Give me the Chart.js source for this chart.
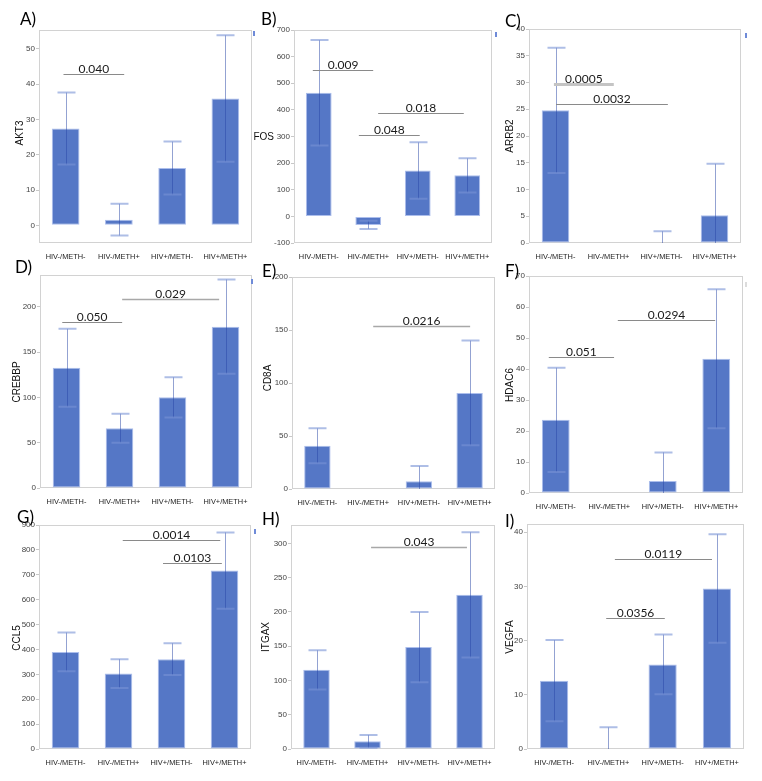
<!DOCTYPE html>
<html><head><meta charset="utf-8">
<script src="https://cdn.jsdelivr.net/npm/chart.js@4.4.1/dist/chart.umd.min.js"></script>
<style>
html,body{margin:0;padding:0;background:#fff;width:762px;height:781px;overflow:hidden}
#wrap{position:relative;width:762px;height:781px}
canvas{position:absolute}
</style></head><body><div id="wrap"></div>
<script>
// ---------- DATA ----------
const categories = ["HIV-/METH-", "HIV-/METH+", "HIV+/METH-", "HIV+/METH+"];

const akt3Mean = [27.4, 1.6, 16.2, 35.9];
const akt3Err  = [10.2, 4.5, 7.5, 17.9];
const akt3Ticks = [0, 10, 20, 30, 40, 50];
const akt3Brackets = [[-0.04, 1.10, 42.8, "0.040"]];

const fosMean = [464, -32, 172, 154];
const fosErr  = [198, 15.5, 106, 64];
const fosTicks = [-100, 0, 100, 200, 300, 400, 500, 600, 700];
const fosBrackets = [[-0.12, 1.10, 548, "0.009"], [1.20, 2.93, 390, "0.018"], [0.81, 2.04, 307, "0.048"]];

const arrb2Mean = [24.8, 0, 0, 5.2];
const arrb2Err  = [11.7, 0, 2.2, 9.6];
const arrb2Ticks = [0, 5, 10, 15, 20, 25, 30, 35, 40];
const arrb2Brackets = [[-0.03, 1.10, 29.8, "0.0005"], [0.01, 2.12, 26.0, "0.0032"]];

const crebbpMean = [132.6, 66, 100, 178];
const crebbpErr  = [43, 16, 22.2, 52];
const crebbpTicks = [0, 50, 100, 150, 200];
const crebbpBrackets = [[-0.08, 1.05, 182.7, "0.050"], [1.05, 2.88, 208, "0.029"]];

const cd8aMean = [40.8, 0, 7.2, 90.6];
const cd8aErr  = [16.4, 0, 14.4, 49.4];
const cd8aTicks = [0, 50, 100, 150, 200];
const cd8aBrackets = [[1.10, 3.01, 153.6, "0.0216"]];

const hdac6Mean = [23.6, 0, 3.9, 43.3];
const hdac6Err  = [16.8, 0, 9.2, 22.4];
const hdac6Ticks = [0, 10, 20, 30, 40, 50, 60, 70];
const hdac6Brackets = [[-0.13, 1.09, 43.9, "0.051"], [1.16, 2.98, 55.9, "0.0294"]];

const ccl5Mean = [390, 303, 361, 717];
const ccl5Err  = [78, 58, 64, 153];
const ccl5Ticks = [0, 100, 200, 300, 400, 500, 600, 700, 800, 900];
const ccl5Brackets = [[1.08, 2.92, 838, "0.0014"], [1.84, 2.95, 747, "0.0103"]];

const itgaxMean = [115.6, 11.2, 148.8, 225];
const itgaxErr  = [28.6, 9.3, 51.3, 91.5];
const itgaxTicks = [0, 50, 100, 150, 200, 250, 300];
const itgaxBrackets = [[1.07, 2.95, 295, "0.043"]];

const vegfaMean = [12.6, 0, 15.6, 29.6];
const vegfaErr  = [7.5, 4.0, 5.5, 10.0];
const vegfaTicks = [0, 10, 20, 30, 40];
const vegfaBrackets = [[1.12, 2.91, 35.0, "0.0119"], [0.96, 2.04, 24.1, "0.0356"]];

// ---------- LAYOUT ----------
const panels = [
  {tag:"A)", gene:"AKT3",  mean:akt3Mean,  err:akt3Err,  ticks:akt3Ticks,  br:akt3Brackets,  min:-5,  max:55.3, frame:[39,30,252,243],  lab:[20,25],  tt:[20,133],  rot:true, mark:[253,31], bs:["dark"]},
  {tag:"B)", gene:"FOS",   mean:fosMean,   err:fosErr,   ticks:fosTicks,   br:fosBrackets,   min:-100,max:700,  frame:[294,30,492,243], lab:[261,25], tt:[274,137], rot:false, mark:[495,32], bs:["dark","dark","dark"]},
  {tag:"C)", gene:"ARRB2", mean:arrb2Mean, err:arrb2Err, ticks:arrb2Ticks, br:arrb2Brackets, min:0,   max:40,   frame:[529,29,741,243], lab:[505,27], tt:[510,136], rot:true, mark:[745,33], bs:["lightThick","dark"]},
  {tag:"D)", gene:"CREBBP",mean:crebbpMean,err:crebbpErr,ticks:crebbpTicks,br:crebbpBrackets,min:0,   max:235,  frame:[40,275,252,488], lab:[15,273], tt:[17,382],  rot:true, mark:[251,279], bs:["dark","light"]},
  {tag:"E)", gene:"CD8A",  mean:cd8aMean,  err:cd8aErr,  ticks:cd8aTicks,  br:cd8aBrackets,  min:0,   max:200,  frame:[292,277,495,489],lab:[262,277],tt:[268,378], rot:true, mark:null, bs:["light"]},
  {tag:"F)", gene:"HDAC6", mean:hdac6Mean, err:hdac6Err, ticks:hdac6Ticks, br:hdac6Brackets, min:0,   max:70,   frame:[529,276,743,493],lab:[505,277],tt:[510,385], rot:true, mark:[745,282], markGray:true, bs:["dark","dark"]},
  {tag:"G)", gene:"CCL5",  mean:ccl5Mean,  err:ccl5Err,  ticks:ccl5Ticks,  br:ccl5Brackets,  min:0,   max:900,  frame:[39,525,251,749], lab:[17,523], tt:[17,638],  rot:true, mark:[254,529], bs:["dark","dark"]},
  {tag:"H)", gene:"ITGAX", mean:itgaxMean, err:itgaxErr, ticks:itgaxTicks, br:itgaxBrackets, min:0,   max:327,  frame:[291,525,495,749],lab:[262,525],tt:[266,637], rot:true, mark:null, bs:["light"]},
  {tag:"I)", gene:"VEGFA", mean:vegfaMean, err:vegfaErr, ticks:vegfaTicks, br:vegfaBrackets, min:0,   max:41.5, frame:[527,524,744,749],lab:[505,527],tt:[510,637], rot:true, mark:null, bs:["dark","dark"]}
];

const PADL = 48, PADT = 22, PADR = 14, PADB = 16;
const BAR = "rgb(85,119,198)";
const BAR_EDGE = "rgb(172,190,236)";

function makeDecor(p, cx, cy) {
  return {
    id: "decor" + p.tag,
    beforeDatasetsDraw(chart) {
      const ctx = chart.ctx, a = chart.chartArea;
      ctx.save();
      ctx.strokeStyle = "#d2d2d2";
      ctx.lineWidth = 1;
      ctx.strokeRect(Math.round(a.left) + 0.5, Math.round(a.top) + 0.5, Math.round(a.right - a.left) - 1, Math.round(a.bottom - a.top) - 1);
      ctx.restore();
    },
    afterDatasetsDraw(chart) {
      const ctx = chart.ctx, a = chart.chartArea;
      const xs = chart.scales.x, ys = chart.scales.y;
      // error bars
      ctx.save();
      ctx.beginPath();
      ctx.rect(a.left, a.top, a.right - a.left, a.bottom - a.top);
      ctx.clip();
      p.mean.forEach((m, i) => {
        const e = p.err[i];
        if (!e) return;
        const x = Math.round(xs.getPixelForValue(i)) + 0.5;
        const yt = ys.getPixelForValue(m + e);
        const yb = ys.getPixelForValue(m - e);
        ctx.strokeStyle = "rgba(40,70,165,0.5)";
        ctx.lineWidth = 1;
        ctx.beginPath(); ctx.moveTo(x, yt); ctx.lineTo(x, yb); ctx.stroke();
        ctx.strokeStyle = "rgba(120,146,214,0.6)";
        ctx.lineWidth = 2;
        ctx.beginPath();
        ctx.moveTo(x - 9, yt); ctx.lineTo(x + 9, yt);
        ctx.moveTo(x - 9, yb); ctx.lineTo(x + 9, yb);
        ctx.stroke();
      });
      ctx.restore();
      // significance brackets
      ctx.save();
      p.br.forEach((b, k) => {
        const x1 = xs.getPixelForValue(b[0]);
        const x2 = xs.getPixelForValue(b[1]);
        const y = Math.round(ys.getPixelForValue(b[2])) + 0.5;
        const st = p.bs[k] || "dark";
        if (st === "lightThick") { ctx.strokeStyle = "#c4c4c4"; ctx.lineWidth = 3; }
        else if (st === "light") { ctx.strokeStyle = "#a8a8a8"; ctx.lineWidth = 1.6; }
        else { ctx.strokeStyle = "#8a8a8a"; ctx.lineWidth = 1; }
        ctx.beginPath(); ctx.moveTo(x1, y); ctx.lineTo(x2, y); ctx.stroke();
        ctx.fillStyle = "#1a1a1a";
        ctx.font = "12px Lato, 'Open Sans', sans-serif";
        ctx.textAlign = "center";
        ctx.textBaseline = "alphabetic";
        ctx.fillText(b[3], (x1 + x2) / 2, y - 2);
      });
      ctx.restore();
    },
    afterDraw(chart) {
      const ctx = chart.ctx;
      ctx.save();
      // panel tag
      ctx.fillStyle = "#000";
      ctx.font = "17px Lato, 'Open Sans', sans-serif";
      ctx.textAlign = "left";
      ctx.textBaseline = "alphabetic";
      ctx.fillText(p.tag, p.lab[0] - cx, p.lab[1] - cy);
      // y title
      ctx.fillStyle = "#111";
      ctx.font = "10px 'Liberation Sans', Arial, sans-serif";
      if (p.rot) {
        ctx.translate(p.tt[0] - cx, p.tt[1] - cy);
        ctx.rotate(-Math.PI / 2);
        ctx.textAlign = "center";
        ctx.textBaseline = "middle";
        ctx.fillText(p.gene, 0, 0);
      } else {
        ctx.textAlign = "right";
        ctx.textBaseline = "middle";
        ctx.fillText(p.gene, p.tt[0] - cx, p.tt[1] - cy);
      }
      ctx.restore();
      if (p.mark) {
        ctx.save();
        ctx.fillStyle = p.markGray ? "#dcdcdc" : "#6f8bd8";
        ctx.fillRect(p.mark[0] - cx, p.mark[1] - cy, 2, 5);
        ctx.restore();
      }
    }
  };
}

const wrap = document.getElementById("wrap");
panels.forEach(p => {
  const [fl, ft, fr, fb] = p.frame;
  const cx = fl - PADL, cy = ft - PADT;
  const w = (fr - fl) + PADL + PADR, h = (fb - ft) + PADT + PADB;
  const cv = document.createElement("canvas");
  cv.width = w; cv.height = h;
  cv.style.left = cx + "px"; cv.style.top = cy + "px";
  cv.style.width = w + "px"; cv.style.height = h + "px";
  wrap.appendChild(cv);
  new Chart(cv.getContext("2d"), {
    type: "bar",
    data: {
      labels: categories,
      datasets: [{
        label: p.gene,
        data: p.mean,
        backgroundColor: BAR,
        borderColor: BAR_EDGE,
        borderWidth: 1,
        borderSkipped: false,
        barPercentage: 0.52,
        categoryPercentage: 1.0
      }]
    },
    options: {
      responsive: false,
      animation: false,
      devicePixelRatio: 1,
      layout: { padding: { left: 0, top: PADT, right: PADR, bottom: 0 } },
      plugins: { legend: { display: false }, tooltip: { enabled: false } },
      scales: {
        x: {
          grid: { display: false },
          border: { display: false },
          ticks: { color: "#222", font: { family: "'Liberation Sans', Arial, sans-serif", size: 7.4 }, padding: 2, maxRotation: 0, autoSkip: false },
          afterFit: ax => { ax.height = PADB; }
        },
        y: {
          min: p.min, max: p.max,
          grid: { display: true, drawOnChartArea: false, tickLength: 3, color: "#c8c8c8" },
          border: { display: false },
          ticks: { color: "#444", font: { family: "'Liberation Sans', Arial, sans-serif", size: 8 }, padding: 1 },
          afterBuildTicks: ax => { ax.ticks = p.ticks.map(v => ({ value: v })); },
          afterFit: ax => { ax.width = PADL; }
        }
      }
    },
    plugins: [makeDecor(p, cx, cy)]
  });
});
</script>
</body></html>
